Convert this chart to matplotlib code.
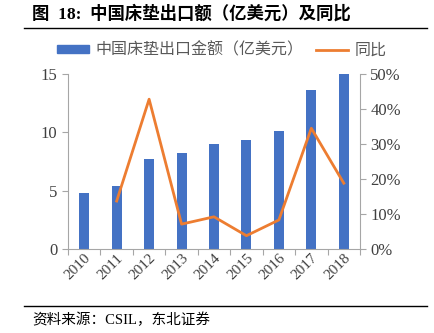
import matplotlib
matplotlib.use('Agg')
import matplotlib.pyplot as plt
from matplotlib.patches import Patch
from matplotlib.lines import Line2D
import numpy as np

plt.rcParams['font.family'] = ['Liberation Serif', 'Noto Sans CJK SC']

years = ['2010', '2011', '2012', '2013', '2014', '2015', '2016', '2017', '2018']
export_value = [4.8, 5.4, 7.7, 8.25, 8.97, 9.34, 10.14, 13.6, 15.0]
yoy_years = years[1:]
yoy = [13.7, 42.8, 7.1, 9.2, 3.8, 8.3, 34.5, 18.8]

bar_color = '#4472C4'
line_color = '#ED7D31'
spine_color = '#A6A6A6'

fig = plt.figure(figsize=(4.34, 3.33), dpi=100)
W, H = 434, 333
ax = fig.add_axes([68 / W, 1 - 249 / H, (360 - 68) / W, (249 - 74) / H])
ax2 = ax.twinx()

x = np.arange(len(years))
ax.bar(x, export_value, width=0.31, color=bar_color, zorder=2)
xl = [years.index(y) for y in yoy_years]
ax2.plot(xl, yoy, color=line_color, linewidth=2, zorder=3)

ax.set_xlim(-0.5, len(years) - 0.5)
ax.set_ylim(0, 15)
ax.set_yticks([0, 5, 10, 15])
ax2.set_ylim(0, 50)
ax2.set_yticks(np.arange(0, 51, 10))
ax2.set_yticklabels([f'{v}%' for v in range(0, 51, 10)])

# category boundary ticks, labels at centres
ax.set_xticks(np.arange(-0.5, len(years), 1))
ax.set_xticklabels([])
ax.set_xticks(x, minor=True)
ax.set_xticklabels(years, minor=True, rotation=45, fontsize=11, color='#404040')
ax.tick_params(axis='x', which='minor', length=0, pad=2)
ax.tick_params(axis='x', which='major', length=4, color=spine_color)
for lab in ax.get_xticklabels(minor=True):
    lab.set_horizontalalignment('right')
    lab.set_rotation_mode('anchor')

ax.tick_params(axis='y', length=4, color=spine_color, labelsize=12, labelcolor='#404040')
ax2.tick_params(axis='y', length=4, color=spine_color, labelsize=12, labelcolor='#404040')

for a in (ax, ax2):
    a.spines['top'].set_visible(False)
    for s in ('left', 'right', 'bottom'):
        a.spines[s].set_color(spine_color)
ax.spines['right'].set_visible(False)
ax2.spines['left'].set_visible(False)
ax2.spines['bottom'].set_visible(False)

# legend
handles = [Patch(color=bar_color), Line2D([0], [0], color=line_color, linewidth=2)]
fig.legend(handles, ['中国床垫出口金额（亿美元）', '同比'], loc='center',
           bbox_to_anchor=(222 / W, 1 - 50 / H), ncol=2, frameon=False,
           prop={'family': ['Noto Sans CJK SC'], 'size': 11.5}, labelcolor='#595959',
           handlelength=2.0, handleheight=0.45, columnspacing=0.8, handletextpad=0.4)

# title and source
fig.text(32 / W, 1 - 14 / H, '图  18:  中国床垫出口额（亿美元）及同比', fontsize=12.5,
         fontweight='bold', va='center', ha='left',
         family=['Liberation Serif', 'Noto Sans CJK SC'])
fig.add_artist(Line2D([24 / W, 427 / W], [1 - 28 / H, 1 - 28 / H], color='black', linewidth=1))
fig.add_artist(Line2D([24 / W, 427 / W], [1 - 306 / H, 1 - 306 / H], color='black', linewidth=1))
fig.text(32 / W, 1 - 320 / H, '资料来源：CSIL，东北证券', fontsize=10.5, va='center', ha='left',
         family=['Liberation Serif', 'Noto Sans CJK SC'])

fig.savefig('out.png', dpi=100)
